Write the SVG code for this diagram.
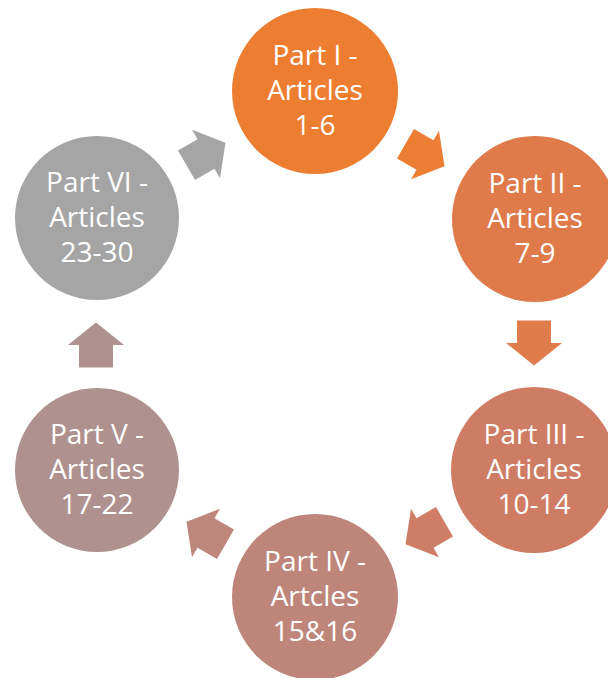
<svg xmlns="http://www.w3.org/2000/svg" width="608" height="678" viewBox="0 0 608 678">
<defs>
<style>
.t{font-family:"Open Sans","Liberation Sans",sans-serif;font-size:28px;fill:#ffffff;text-anchor:middle}
</style>
<path id="arr" d="M-22.5,-17 H0 V-28 L22.5,0 L0,28 V17 H-22.5 Z"/>
</defs>
<rect width="608" height="678" fill="#ffffff"/>
<g id="connectors">
<use href="#arr" fill="#EC7E34" transform="translate(425,155) rotate(30)"/>
<use href="#arr" fill="#DF7C4C" transform="translate(534,343) rotate(90)"/>
<use href="#arr" fill="#CF7D66" transform="translate(425,533) rotate(150)"/>
<use href="#arr" fill="#BE877C" transform="translate(206,533) rotate(210)"/>
<use href="#arr" fill="#AF9190" transform="translate(96,345) rotate(270)"/>
<use href="#arr" fill="#A5A5A5" transform="translate(206,154) rotate(330)"/>
</g>
<g id="part1">
<circle cx="315" cy="91" r="83" fill="#ED7D31"/>
<text class="t" x="315" y="65">Part I -</text>
<text class="t" x="315" y="100">Articles</text>
<text class="t" x="315" y="135">1-6</text>
</g>
<g id="part2">
<circle cx="535" cy="219" r="83" fill="#DF7A4B"/>
<text class="t" x="535" y="193">Part II -</text>
<text class="t" x="535" y="228">Articles</text>
<text class="t" x="535" y="263">7-9</text>
</g>
<g id="part3">
<circle cx="534" cy="470" r="83" fill="#CE7C64"/>
<text class="t" x="534" y="444">Part III -</text>
<text class="t" x="534" y="479">Articles</text>
<text class="t" x="534" y="514">10-14</text>
</g>
<g id="part4">
<circle cx="315" cy="597" r="83" fill="#BE867B"/>
<text class="t" x="315" y="571">Part IV -</text>
<text class="t" x="315" y="606">Artcles</text>
<text class="t" x="315" y="641">15&amp;16</text>
</g>
<g id="part5">
<circle cx="97" cy="470" r="82" fill="#AF918F"/>
<text class="t" x="97" y="444">Part V -</text>
<text class="t" x="97" y="479">Articles</text>
<text class="t" x="97" y="514">17-22</text>
</g>
<g id="part6">
<circle cx="97" cy="218" r="82" fill="#A5A5A5"/>
<text class="t" x="97" y="192">Part VI -</text>
<text class="t" x="97" y="227">Articles</text>
<text class="t" x="97" y="262">23-30</text>
</g>
</svg>
